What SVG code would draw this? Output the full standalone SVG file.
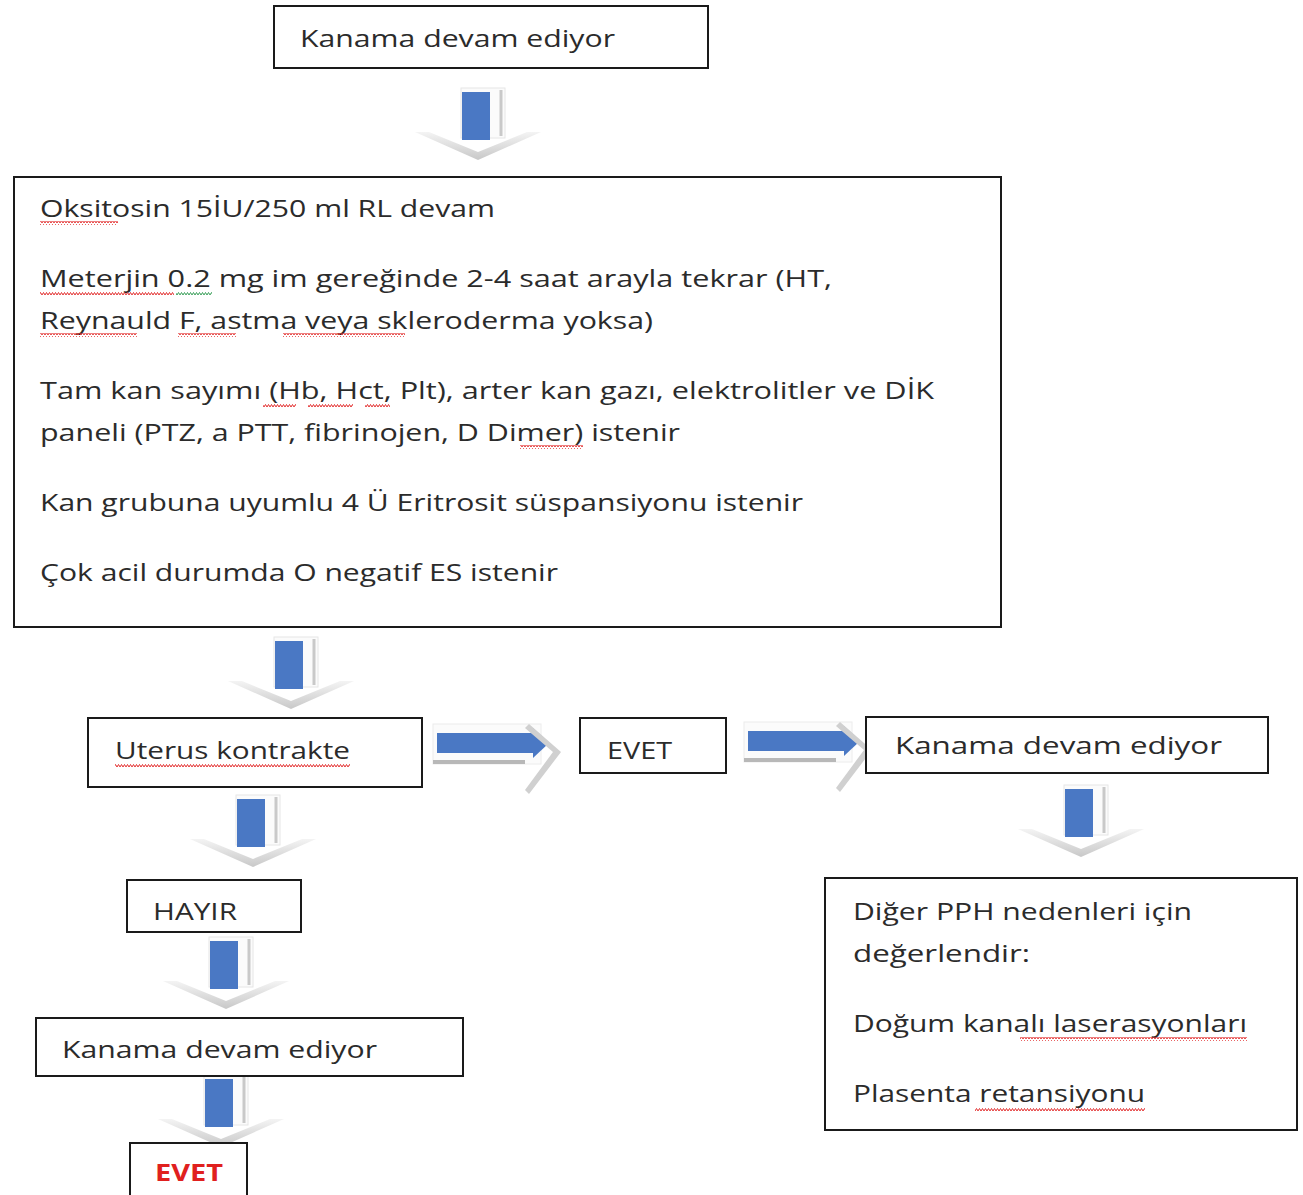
<svg xmlns="http://www.w3.org/2000/svg" width="1303" height="1195" viewBox="0 0 1303 1195">
<style>
.box{fill:#fff;stroke:#1a1a1a;stroke-width:2}
.t{font-family:"Open Sans","DejaVu Sans",sans-serif;font-size:24px;fill:#2b2b2b}
.red{fill:#e0201e;font-weight:bold}
.sq{fill:url(#wave)}
.sqg{fill:url(#waveg)}
</style>
<defs>
<pattern id="wave" width="6" height="4" patternUnits="userSpaceOnUse">
<polyline points="0,3 1.5,0.5 3,3 4.5,0.5 6,3" fill="none" stroke="#e23030" stroke-width="1"/>
</pattern>
<pattern id="waveg" width="6" height="4" patternUnits="userSpaceOnUse">
<polyline points="0,3 1.5,0.5 3,3 4.5,0.5 6,3" fill="none" stroke="#3aa05a" stroke-width="1"/>
</pattern>
<linearGradient id="chev" x1="0" y1="0" x2="0" y2="1">
<stop offset="0" stop-color="#f4f4f4"/>
<stop offset="1" stop-color="#c8c8c8"/>
</linearGradient>
<g id="down">
<rect x="46" y="0" width="44" height="50" fill="#fbfbfb" stroke="#e6e6e6" stroke-width="1"/>
<line x1="86" y1="2" x2="86" y2="48" stroke="#c9c9c9" stroke-width="3"/>
<rect x="47" y="4" width="28" height="48" fill="#4a78c4"/>
<polygon points="0,44 63,72 126,44 112,44 63,64 14,44" fill="url(#chev)"/>
</g>
<g id="right">
<rect x="0" y="0" width="108" height="40" fill="#fbfbfb" stroke="#ececec" stroke-width="1"/>
<rect x="4" y="9" width="96" height="20" fill="#4a78c4"/>
<polygon points="100,4 116,19 100,34" fill="#4a78c4"/>
<line x1="0" y1="38" x2="92" y2="38" stroke="#b8b8b8" stroke-width="4"/>
<polygon points="96,0 128,28 96,70 92,66 120,28 92,4" fill="#d0d0d0"/>
</g>
</defs>

<g id="connectors">
<use href="#down" x="415" y="88"/>
<use href="#down" x="228" y="637"/>
<use href="#down" x="190" y="795"/>
<use href="#down" x="163" y="937"/>
<use href="#down" x="158" y="1075"/>
<use href="#down" x="1018" y="785"/>
<use href="#right" x="433" y="724"/>
<use href="#right" x="744" y="722"/>
</g>

<g id="n1">
<rect class="box" x="274" y="6" width="434" height="62"/>
<text class="t" x="300" y="47" textLength="315" lengthAdjust="spacingAndGlyphs">Kanama devam ediyor</text>
</g>

<g id="n2">
<rect class="box" x="14" y="177" width="987" height="450"/>
<text class="t" x="40" y="217" textLength="455" lengthAdjust="spacingAndGlyphs">Oksitosin 15İU/250 ml RL devam</text>
<rect class="sq" x="40" y="221" width="78" height="4"/>
<text class="t" x="40" y="287" textLength="792" lengthAdjust="spacingAndGlyphs">Meterjin 0.2 mg im gereğinde 2-4 saat arayla tekrar (HT,</text>
<rect class="sq" x="40" y="291" width="134" height="4"/>
<rect class="sqg" x="176" y="291" width="36" height="4"/>
<text class="t" x="40" y="329" textLength="613" lengthAdjust="spacingAndGlyphs">Reynauld F, astma  veya skleroderma yoksa)</text>
<rect class="sq" x="40" y="333" width="97" height="4"/>
<rect class="sq" x="178" y="333" width="58" height="4"/>
<rect class="sq" x="283" y="333" width="122" height="4"/>
<text class="t" x="40" y="399" textLength="894" lengthAdjust="spacingAndGlyphs">Tam kan sayımı (Hb, Hct, Plt), arter kan gazı, elektrolitler ve DİK</text>
<rect class="sq" x="263" y="403" width="33" height="4"/>
<rect class="sq" x="308" y="403" width="45" height="4"/>
<rect class="sq" x="365" y="403" width="25" height="4"/>
<text class="t" x="40" y="441" textLength="640" lengthAdjust="spacingAndGlyphs">paneli (PTZ, a PTT, fibrinojen, D Dimer) istenir</text>
<rect class="sq" x="520" y="445" width="63" height="4"/>
<text class="t" x="40" y="511" textLength="763" lengthAdjust="spacingAndGlyphs">Kan grubuna uyumlu 4 Ü Eritrosit süspansiyonu istenir</text>
<text class="t" x="40" y="581" textLength="518" lengthAdjust="spacingAndGlyphs">Çok acil durumda O negatif ES istenir</text>
</g>

<g id="n3">
<rect class="box" x="88" y="718" width="334" height="69"/>
<text class="t" x="115" y="759" textLength="235" lengthAdjust="spacingAndGlyphs">Uterus kontrakte</text>
<rect class="sq" x="115" y="763" width="235" height="4"/>
</g>

<g id="n4">
<rect class="box" x="580" y="718" width="146" height="55"/>
<text class="t" x="607" y="759" textLength="65" lengthAdjust="spacingAndGlyphs">EVET</text>
</g>

<g id="n5">
<rect class="box" x="866" y="717" width="402" height="56"/>
<text class="t" x="895" y="754" textLength="327" lengthAdjust="spacingAndGlyphs">Kanama devam ediyor</text>
</g>

<g id="n6">
<rect class="box" x="127" y="880" width="174" height="52"/>
<text class="t" x="153" y="920" textLength="84" lengthAdjust="spacingAndGlyphs">HAYIR</text>
</g>

<g id="n7">
<rect class="box" x="36" y="1018" width="427" height="58"/>
<text class="t" x="62" y="1058" textLength="315" lengthAdjust="spacingAndGlyphs">Kanama devam ediyor</text>
</g>

<g id="n8">
<rect class="box" x="130" y="1143" width="117" height="60"/>
<text class="t red" x="155" y="1181" textLength="68" lengthAdjust="spacingAndGlyphs">EVET</text>
</g>

<g id="n9">
<rect class="box" x="825" y="878" width="472" height="252"/>
<text class="t" x="853" y="920" textLength="339" lengthAdjust="spacingAndGlyphs">Diğer PPH nedenleri için</text>
<text class="t" x="853" y="962" textLength="177" lengthAdjust="spacingAndGlyphs">değerlendir:</text>
<text class="t" x="853" y="1032" textLength="394" lengthAdjust="spacingAndGlyphs">Doğum kanalı laserasyonları</text>
<rect class="sq" x="1020" y="1037" width="227" height="4"/>
<text class="t" x="853" y="1102" textLength="292" lengthAdjust="spacingAndGlyphs">Plasenta retansiyonu</text>
<rect class="sq" x="975" y="1107" width="170" height="4"/>
</g>
</svg>
